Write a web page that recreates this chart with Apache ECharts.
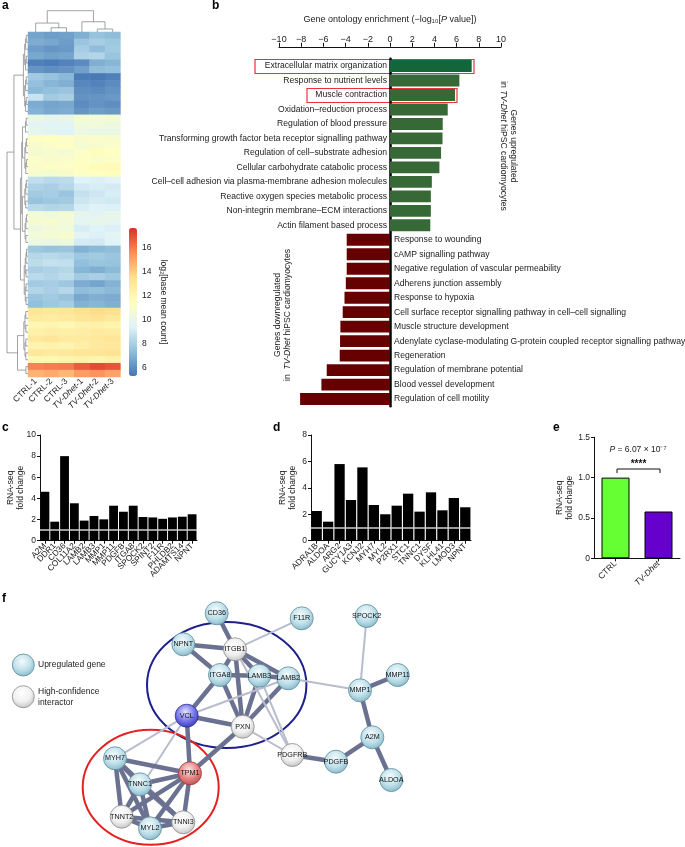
<!DOCTYPE html>
<html><head><meta charset="utf-8">
<script src="https://cdn.jsdelivr.net/npm/echarts@6/dist/echarts.min.js"></script>
<style>html,body{margin:0;padding:0;background:#fff}#c{width:685px;height:847px}</style>
</head><body><div id="c"></div>
<script>
// ---------------- DATA ----------------
const heatCols = ['CTRL-1','CTRL-2','CTRL-3','TV-Dhet-1','TV-Dhet-2','TV-Dhet-3'];
const heatRows = [
 [6.6,6.4,6.5,6.9,7.5,7.3],[6.8,6.7,6.4,7.6,7.9,7.7],[6.4,6.2,6.3,7.9,7.3,7.8],[6.7,6.5,6.6,8.1,8.2,7.6],
 [5.6,5.5,5.7,5.9,6.9,7.1],[6.2,6.0,6.1,6.5,7.3,7.4],[7.8,7.5,7.2,5.5,5.4,5.6],[7.4,7.1,6.9,5.8,5.7,5.9],
 [7.2,7.4,7.6,6.0,5.9,6.1],[8.8,7.8,8.0,6.1,6.2,6.3],[6.8,6.6,6.7,5.9,6.1,6.0],[7.0,6.7,6.8,6.2,6.4,6.3],
 [10.0,9.8,9.9,10.8,10.6,10.7],[9.6,9.5,9.6,10.4,10.5,10.3],[9.8,9.6,9.4,10.2,10.0,10.1],
 [11.3,11.4,11.2,11.0,11.1,10.9],[11.0,11.1,11.3,10.8,11.0,11.1],[10.8,10.9,10.7,11.2,11.6,11.4],
 [11.2,11.0,11.1,11.3,11.1,11.2],[11.1,11.3,11.2,11.5,11.7,11.8],[10.9,10.8,11.0,11.2,11.4,11.6],
 [8.6,8.4,8.5,9.4,9.3,9.5],[8.1,8.0,8.3,9.0,9.2,9.1],[7.8,7.9,7.6,8.7,8.9,9.2],[7.5,7.7,7.8,8.9,9.1,9.0],
 [8.4,8.2,8.3,9.2,9.4,9.3],
 [10.6,10.4,10.7,9.8,9.6,9.9],[10.8,10.9,10.6,9.7,9.9,9.8],[10.3,10.5,10.4,9.2,9.4,9.3],
 [10.6,10.7,10.9,9.5,9.3,9.6],[10.2,10.1,10.3,9.1,9.0,9.4],
 [7.7,7.5,7.6,7.0,7.2,7.3],[8.3,8.4,8.2,7.7,7.8,7.6],[8.5,8.7,8.6,7.4,7.6,7.5],[8.0,8.1,8.3,7.1,6.9,7.2],
 [8.4,8.2,8.5,7.8,8.0,7.7],[7.8,7.9,7.7,6.8,6.6,7.0],[8.2,8.0,8.3,7.3,7.4,7.2],[7.6,7.8,7.5,6.7,6.9,6.8],
 [7.4,7.7,7.9,7.0,7.1,6.9],
 [13.2,13.0,13.1,13.4,13.6,13.5],[12.8,12.7,12.9,13.1,13.3,13.0],[12.0,12.1,11.9,12.3,12.4,12.2],
 [12.4,12.6,12.5,12.6,12.8,12.7],[12.9,13.1,12.8,12.8,13.0,13.2],[12.2,12.3,12.1,12.5,12.9,13.0],
 [13.0,12.8,13.0,13.2,13.1,13.3],[11.9,12.0,12.2,12.3,12.1,12.4],
 [15.8,15.9,16.0,16.6,17.0,16.8],[14.6,14.8,14.5,15.2,15.4,15.0]
];
const heatMin = 5.3, heatMax = 17.6;
const colorbarTicks = [6,8,10,12,14,16];
// dendrogram structure: [height, left, right], leaves = index; row blocks named
const colTree = [1.0,[0.42,0,[0.2,1,2]],[0.48,3,[0.14,4,5]]];
const rowBlocks = {A:[0,11,0.22],B:[12,14,0.12],C:[15,20,0.15],D:[21,25,0.15],E:[26,30,0.14],F:[31,39,0.18],G:[40,47,0.2],H:[48,49,0.1]};
const rowTree = [1.0,[0.67,'A',[0.36,[0.3,[0.26,'B','C'],[0.27,'D','E']],'F']],[0.5,'G','H']];

const goUpTerms = ['Extracellular matrix organization','Response to nutrient levels','Muscle contraction','Oxidation–reduction process','Regulation of blood pressure','Transforming growth factor beta receptor signalling pathway','Regulation of cell–substrate adhesion','Cellular carbohydrate catabolic process','Cell–cell adhesion via plasma-membrane adhesion molecules','Reactive oxygen species metabolic process','Non-integrin membrane–ECM interactions','Actin filament based process'];
const goUpValues = [7.36,6.25,5.86,5.2,4.75,4.73,4.6,4.45,3.77,3.68,3.68,3.63];
const goDownTerms = ['Response to wounding','cAMP signalling pathway','Negative regulation of vascular permeability','Adherens junction assembly','Response to hypoxia','Cell surface receptor signalling pathway in cell–cell signalling','Muscle structure development','Adenylate cyclase-modulating G-protein coupled receptor signalling pathway','Regeneration','Regulation of membrane potential','Blood vessel development','Regulation of cell motility'];
const goDownValues = [-3.9,-3.9,-3.9,-3.98,-4.1,-4.26,-4.47,-4.5,-4.53,-5.7,-6.18,-8.1];

const cGenes = ['A2M','DDR1','CD36','COL11A2','LAMB2','LAMB3','MMP1','MMP11','PDGFB','ITGA8','SPOCK2','SPINT2','F11R','PHLDB2','ADAMTS14','NPNT'];
const cValues = [4.63,1.8,8.0,3.54,1.9,2.34,2.02,3.31,2.74,3.31,2.24,2.2,2.07,2.2,2.27,2.5];
const dGenes = ['ADRA1B','ALDOA','ARG2','GUCY1A3','KCNJ2','MYH7','MYL2','P2RX1','STC1','TNNC1','DYSF','KLHL41','LMOD3','NPNT'];
const dValues = [2.25,1.44,5.8,3.08,5.55,2.7,2.0,2.65,3.56,2.2,3.66,2.3,3.23,2.53];
const eGroups = ['CTRL','TV-Dhet'];
const eValues = [1.0,0.58];

// network: name, type (up / hc / vcl / tpm), layout position (px)
const netNames = ['CD36','F11R','SPOCK2','NPNT','ITGB1','ITGA8','LAMB3','LAMB2','MMP1','MMP11','VCL','PXN','A2M','PDGFRB','PDGFB','ALDOA','MYH7','TPM1','TNNC1','TNNT2','MYL2','TNNI3'];
const netTypes = ['up','up','up','up','hc','up','up','up','up','up','vcl','hc','up','hc','up','up','up','tpm','up','hc','up','hc'];
const netX = [216.7,301.7,366.7,183.3,235,220,259.3,288.3,360,397.7,186.7,242.7,372.3,292.3,336,391.3,115,190,140,121.7,150,183.3];
const netY = [613.3,618.3,616,644.3,649.3,675,675.7,678.3,690.3,675,715.7,726.7,737.3,755,761.7,780,758.3,773.3,784.3,816.7,828.3,822.3];
// edges: [source, target, strong(1)/weak(0)]
const netEdges = [
 ['CD36','ITGB1',1],['F11R','ITGB1',0],['NPNT','ITGB1',1],['NPNT','ITGA8',1],['ITGB1','ITGA8',1],['ITGB1','LAMB3',1],
 ['ITGB1','LAMB2',1],['ITGB1','PXN',1],['ITGA8','LAMB3',1],['LAMB3','LAMB2',1],['ITGA8','VCL',1],['ITGA8','PXN',1],
 ['LAMB3','PXN',1],['LAMB2','PXN',1],['LAMB2','VCL',0],['LAMB2','MMP1',0],['LAMB3','PDGFRB',0],['ITGB1','PDGFRB',0],
 ['PXN','PDGFRB',0],['VCL','PXN',1],['VCL','TPM1',1],['VCL','MYH7',0],['VCL','TNNT2',0],['PXN','TPM1',1],
 ['MYH7','TPM1',1],['MYH7','TNNC1',1],['MYH7','TNNT2',1],['MYH7','MYL2',1],['MYH7','TNNI3',1],['TPM1','TNNC1',1],
 ['TPM1','TNNT2',1],['TPM1','MYL2',1],['TPM1','TNNI3',1],['TNNC1','TNNT2',1],['TNNC1','MYL2',1],['TNNC1','TNNI3',1],
 ['TNNT2','MYL2',1],['TNNT2','TNNI3',1],['MYL2','TNNI3',1],['SPOCK2','MMP1',0],['MMP1','MMP11',1],['MMP1','A2M',1],
 ['A2M','PDGFB',1],['A2M','ALDOA',1],['PDGFRB','PDGFB',1]
];

// ---------------- BUILD ----------------
const FONT = '"Liberation Sans", Arial, Helvetica, sans-serif';
const heatData = [];
heatRows.forEach((r, i) => r.forEach((v, j) => heatData.push([j, i, v])));

function blockTree(lo, hi, h) {
  if (lo === hi) return lo;
  const mid = Math.floor((lo + hi) / 2);
  return [h, blockTree(lo, mid, h * 0.72), blockTree(mid + 1, hi, h * 0.72)];
}
function expand(node) {
  if (typeof node === 'string') { const b = rowBlocks[node]; return blockTree(b[0], b[1], b[2]); }
  if (typeof node === 'number') return node;
  return [node[0], expand(node[1]), expand(node[2])];
}
function dendro(node, segs) {
  if (typeof node === 'number') return {p: node + 0.5, h: 0};
  const a = dendro(node[1], segs), b = dendro(node[2], segs), h = node[0];
  segs.push([[a.h, a.p], [h, a.p], [h, b.p], [b.h, b.p]]);
  return {p: (a.p + b.p) / 2, h: h};
}
const rowSegs = []; dendro(expand(rowTree), rowSegs);
const colSegs = []; dendro(colTree, colSegs);
const rowDendroData = rowSegs.map(s => [s[0][0], s[0][1], s[1][0], s[1][1], s[2][0], s[2][1], s[3][0], s[3][1]]);
const colDendroData = colSegs.map(s => [s[0][1], s[0][0], s[1][1], s[1][0], s[2][1], s[2][0], s[3][1], s[3][0]]);
function dendroRender(params, api) {
  const pts = [];
  for (let k = 0; k < 4; k++) pts.push(api.coord([api.value(2 * k), api.value(2 * k + 1)]));
  return {type: 'polyline', shape: {points: pts}, style: {stroke: '#8c8c8c', lineWidth: 0.8, fill: null}};
}

const goCats = goUpTerms.concat(goDownTerms);
const goUpSeries = goUpValues.concat(goDownTerms.map(() => null));
const goDownSeries = goUpTerms.map(() => null).concat(goDownValues);

function grad(c0, c1, c2) {
  return {type: 'radial', x: 0.45, y: 0.35, r: 0.7, colorStops: [{offset: 0, color: c0}, {offset: 0.55, color: c1}, {offset: 1, color: c2}]};
}
const nodeStyles = {
  up: {color: grad('#f4fbfd', '#bfe0ea', '#7fb3c4'), borderColor: '#5d8c9b'},
  hc: {color: grad('#ffffff', '#f0f0f0', '#bdbdbd'), borderColor: '#8a8a8a'},
  vcl: {color: grad('#e6e6ff', '#7373ea', '#3434b0'), borderColor: '#2c2c90'},
  tpm: {color: grad('#ffe6e6', '#e58484', '#b84848'), borderColor: '#a03838'}
};
const netNodes = netNames.map((n, i) => ({
  name: n, value: [netX[i], netY[i]],
  itemStyle: Object.assign({borderWidth: 0.8}, nodeStyles[netTypes[i]])
}));
const netLinks = netEdges.map(e => ({
  source: netNames.indexOf(e[0]), target: netNames.indexOf(e[1]),
  lineStyle: e[2] ? {width: 4.5, color: '#6b7190', opacity: 1} : {width: 2, color: '#b8bccd', opacity: 1}
}));

const fmtMinus = v => v < 0 ? '\u2212' + Math.abs(v) : String(v);
const italicTV = s => s.indexOf('TV-Dhet') === 0 ? '{i|TV-Dhet}' + s.slice(7) : s;
const tickText = {fontSize: 8.5, color: '#222', fontFamily: FONT};
const blackAxis = {show: true, lineStyle: {color: '#111', width: 1}};

function smallBarAxes(idx, cats, max, interval, nameGap, moveOverlap) {
  return {
    x: {gridIndex: idx, type: 'category', data: cats, axisLine: blackAxis,
        axisTick: {show: true, alignWithLabel: true, length: 3, lineStyle: {color: '#111'}},
        axisLabel: Object.assign({rotate: 45, margin: 4, interval: 0, formatter: italicTV,
          rich: {i: {fontStyle: 'italic', fontSize: 8.3, fontFamily: FONT, color: '#222'}}}, tickText, {fontSize: 8.3})},
    y: {gridIndex: idx, type: 'value', min: 0, max: max, interval: interval, splitLine: {show: false},
        axisLine: blackAxis, axisTick: {show: true, length: 3, lineStyle: {color: '#111'}},
        axisLabel: Object.assign({margin: 4, formatter: v => (interval < 1 && v !== 0) ? v.toFixed(1) : String(v)}, tickText),
        name: 'RNA-seq\nfold change', nameLocation: 'middle', nameGap: nameGap, nameRotate: 90, nameMoveOverlap: moveOverlap,
        nameTextStyle: {fontSize: 8.5, color: '#222', lineHeight: 10, fontFamily: FONT}}
  };
}
const axC = smallBarAxes(5, cGenes, 10, 2, 14, false);
const axD = smallBarAxes(6, dGenes, 8, 2, 13, true);
const axE = smallBarAxes(7, eGroups, 1.5, 0.5, 18, true);
axE.x.axisLabel.fontSize = 8.5; axE.x.axisLabel.rich.i.fontSize = 8.5;

const refLine = {silent: true, symbol: ['none', 'none'], label: {show: false},
  lineStyle: {color: '#cfcfcf', width: 1.5, type: 'solid'}, data: [{yAxis: 1}]};

const option = {
  animation: false,
  textStyle: {fontFamily: FONT},
  grid: [
    {left: 28, top: 32, width: 92.4, height: 345},          // 0 heatmap
    {left: 7, top: 32, width: 21, height: 345},             // 1 row dendro
    {left: 28, top: 10.7, width: 92.4, height: 21.3},       // 2 col dendro
    {left: 129, top: 228, width: 8, height: 148},           // 3 colorbar axis
    {left: 279, top: 58.8, width: 222, height: 347.5},      // 4 GO bars
    {left: 40, top: 435, width: 157, height: 105.7},        // 5 c
    {left: 311, top: 435, width: 160, height: 105.7},       // 6 d
    {left: 594, top: 437.3, width: 86, height: 121},        // 7 e
    {left: 0, top: 0, width: 685, height: 847}              // 8 network
  ],
  xAxis: [
    {gridIndex: 0, type: 'category', data: heatCols, axisLine: {show: false}, axisTick: {show: false},
     axisLabel: {rotate: 45, margin: 3, interval: 0, fontSize: 8.5, color: '#222', formatter: italicTV,
       rich: {i: {fontStyle: 'italic', fontSize: 8.5, color: '#222', fontFamily: FONT}}}},
    {gridIndex: 1, type: 'value', min: 0, max: 1, inverse: true, show: false},
    {gridIndex: 2, type: 'value', min: 0, max: 6, show: false},
    {gridIndex: 3, type: 'value', show: false},
    {gridIndex: 4, type: 'value', position: 'top', min: -10, max: 10, interval: 2, offset: 12,
     splitLine: {show: false}, axisLine: blackAxis,
     axisTick: {show: true, length: 4, lineStyle: {color: '#111'}},
     axisLabel: Object.assign({margin: 3, formatter: fmtMinus}, tickText, {fontSize: 9}),
     name: 'Gene ontology enrichment (\u2212log\u2081\u2080[{i|P} value])', nameLocation: 'middle', nameGap: 23,
     nameTextStyle: {fontSize: 9, color: '#222', rich: {i: {fontStyle: 'italic', fontSize: 9, color: '#222', fontFamily: FONT}}}},
    axC.x, axD.x, axE.x,
    {gridIndex: 8, type: 'value', min: 0, max: 685, show: false}
  ],
  yAxis: [
    {gridIndex: 0, type: 'category', data: heatRows.map((r, i) => 'r' + i), inverse: true, show: false},
    {gridIndex: 1, type: 'value', min: 0, max: heatRows.length, inverse: true, show: false},
    {gridIndex: 2, type: 'value', min: 0, max: 1, show: false},
    {gridIndex: 3, type: 'value', position: 'right', min: heatMin, max: heatMax,
     splitLine: {show: false}, axisLine: {show: false}, axisTick: {show: false},
     axisLabel: Object.assign({margin: 5, customValues: colorbarTicks}, tickText),
     name: 'log\u2082[base mean count]', nameLocation: 'middle', nameRotate: -90, nameGap: 22,
     nameTextStyle: {fontSize: 8.5, color: '#222'}},
    {gridIndex: 4, type: 'category', data: goCats, inverse: true,
     axisLine: {show: true, onZero: true, lineStyle: {color: '#000', width: 2.5}},
     axisTick: {show: false}, axisLabel: {show: false}},
    axC.y, axD.y, axE.y,
    {gridIndex: 8, type: 'value', min: 0, max: 847, inverse: true, show: false}
  ],
  visualMap: [{
    type: 'continuous', seriesIndex: 0, dimension: 2, min: heatMin, max: heatMax,
    left: 129, top: 228, itemWidth: 8, itemHeight: 148, padding: 0, calculable: false, hoverLink: false,
    inRange: {color: ['#4575b4', '#91bfdb', '#e0f3f8', '#ffffbf', '#fee090', '#fc8d59', '#d73027']}
  }],
  series: [
    {type: 'heatmap', xAxisIndex: 0, yAxisIndex: 0, data: heatData, itemStyle: {borderWidth: 0}, emphasis: {disabled: true}},
    {type: 'custom', xAxisIndex: 1, yAxisIndex: 1, renderItem: dendroRender, data: rowDendroData, silent: true},
    {type: 'custom', xAxisIndex: 2, yAxisIndex: 2, renderItem: dendroRender, data: colDendroData, silent: true},
    {type: 'bar', xAxisIndex: 4, yAxisIndex: 4, stack: 'go', barCategoryGap: '18%',
     data: goUpSeries.map((v, i) => v === null ? null : {value: v, itemStyle: {color: i === 0 ? '#12663a' : '#366935'}}),
     label: {show: true, position: 'left', distance: 3, formatter: p => p.name, fontSize: 8.6, color: '#1a1a1a'}},
    {type: 'bar', xAxisIndex: 4, yAxisIndex: 4, stack: 'go', barCategoryGap: '18%', itemStyle: {color: '#660000'},
     data: goDownSeries,
     label: {show: true, position: 'right', distance: 4, formatter: p => p.name, fontSize: 8.6, color: '#1a1a1a'}},
    {type: 'bar', xAxisIndex: 5, yAxisIndex: 5, data: cValues, barCategoryGap: '10%', itemStyle: {color: '#000'}, markLine: refLine},
    {type: 'bar', xAxisIndex: 6, yAxisIndex: 6, data: dValues, barCategoryGap: '10%', itemStyle: {color: '#000'}, markLine: refLine},
    {type: 'bar', xAxisIndex: 7, yAxisIndex: 7, barWidth: 28,
     data: eValues.map((v, i) => ({value: v, itemStyle: {color: i === 0 ? '#66ff33' : '#6600cc', borderColor: '#000', borderWidth: 1}}))},
    {type: 'graph', coordinateSystem: 'cartesian2d', xAxisIndex: 8, yAxisIndex: 8, layout: 'none',
     symbolSize: 23, data: netNodes, links: netLinks, z: 3,
     label: {show: true, position: 'inside', fontSize: 7.2, color: '#111', fontFamily: FONT},
     emphasis: {disabled: true}}
  ],
  graphic: [
    // panel letters
    {type: 'text', x: 2, y: 0, style: {text: 'a', fill: '#000', font: 'bold 12px ' + FONT}},
    {type: 'text', x: 212, y: 0, style: {text: 'b', fill: '#000', font: 'bold 12px ' + FONT}},
    {type: 'text', x: 2, y: 422, style: {text: 'c', fill: '#000', font: 'bold 12px ' + FONT}},
    {type: 'text', x: 273, y: 422, style: {text: 'd', fill: '#000', font: 'bold 12px ' + FONT}},
    {type: 'text', x: 553, y: 422, style: {text: 'e', fill: '#000', font: 'bold 12px ' + FONT}},
    {type: 'text', x: 2, y: 593, style: {text: 'f', fill: '#000', font: 'bold 12px ' + FONT}},
    // red highlight boxes (panel b)
    {type: 'rect', shape: {x: 255, y: 59.5, width: 219, height: 14}, style: {fill: null, stroke: '#e8323c', lineWidth: 1.2}},
    {type: 'rect', shape: {x: 307, y: 88.5, width: 150, height: 14}, style: {fill: null, stroke: '#e8323c', lineWidth: 1.2}},
    // rotated side notes
    {type: 'text', x: 508, y: 146, rotation: -Math.PI / 2,
     style: {text: 'Genes upregulated\nin {i|TV-Dhet} hiPSC cardiomyocytes', align: 'center', verticalAlign: 'middle',
       fontSize: 8.6, lineHeight: 10, fill: '#222', fontFamily: FONT,
       rich: {i: {fontStyle: 'italic', fontSize: 8.6, fill: '#222', fontFamily: FONT}}}},
    {type: 'text', x: 282.5, y: 315, rotation: Math.PI / 2,
     style: {text: 'Genes downregulated\nin  {i|TV-Dhet} hiPSC cardiomyocytes', align: 'center', verticalAlign: 'middle',
       fontSize: 8.6, lineHeight: 10, fill: '#222', fontFamily: FONT,
       rich: {i: {fontStyle: 'italic', fontSize: 8.6, fill: '#222', fontFamily: FONT}}}},
    // panel e significance
    {type: 'text', x: 638, y: 450, style: {text: '{i|P} = 6.07 \u00d7 10\u207b\u2077', align: 'center', verticalAlign: 'middle',
       fontSize: 8.5, fill: '#222', fontFamily: FONT, rich: {i: {fontStyle: 'italic', fontSize: 8.5, fill: '#222', fontFamily: FONT}}}},
    {type: 'polyline', shape: {points: [[617, 473], [617, 469], [660, 469], [660, 473]]}, style: {stroke: '#111', lineWidth: 1, fill: null}},
    {type: 'text', x: 638.5, y: 464.5, style: {text: '****', align: 'center', verticalAlign: 'middle', fill: '#111', font: 'bold 10px ' + FONT}},
    // network ellipses
    {type: 'ellipse', z: 1, shape: {cx: 226.7, cy: 685, rx: 79.7, ry: 63}, style: {fill: null, stroke: '#1e1e8c', lineWidth: 2}},
    {type: 'ellipse', z: 1, shape: {cx: 150.7, cy: 787.3, rx: 68, ry: 57.5}, style: {fill: null, stroke: '#e42020', lineWidth: 2}},
    // network legend
    {type: 'circle', shape: {cx: 23.3, cy: 665, r: 11}, style: {fill: nodeStyles.up.color, stroke: nodeStyles.up.borderColor, lineWidth: 0.8}},
    {type: 'circle', shape: {cx: 23.3, cy: 696.7, r: 11}, style: {fill: nodeStyles.hc.color, stroke: nodeStyles.hc.borderColor, lineWidth: 0.8}},
    {type: 'text', x: 38, y: 665, style: {text: 'Upregulated gene', verticalAlign: 'middle', fontSize: 8.5, fill: '#222', fontFamily: FONT}},
    {type: 'text', x: 38, y: 696.7, style: {text: 'High-confidence\ninteractor', verticalAlign: 'middle', fontSize: 8.5, lineHeight: 11, fill: '#222', fontFamily: FONT}}
  ]
};
const chart = echarts.init(document.getElementById('c'), null, {renderer: 'canvas'});
chart.setOption(option);
</script></body></html>
